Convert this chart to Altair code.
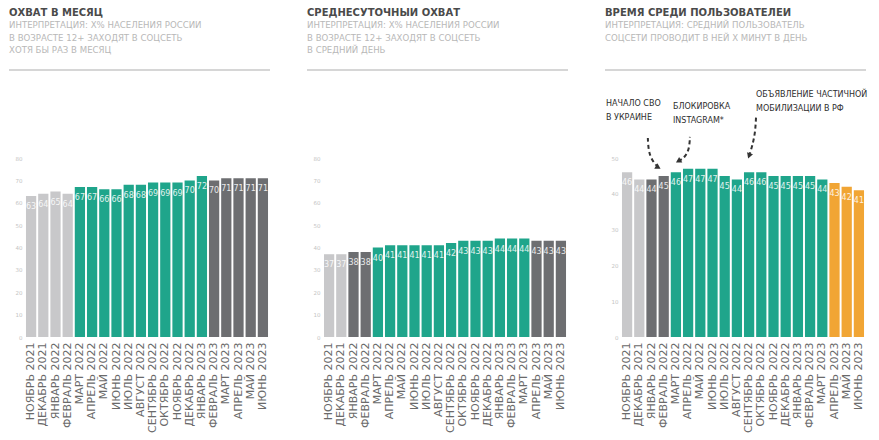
import altair as alt
import pandas as pd

months = ["НОЯБРЬ 2021", "ДЕКАБРЬ 2021", "ЯНВАРЬ 2022", "ФЕВРАЛЬ 2022", "МАРТ 2022",
          "АПРЕЛЬ 2022", "МАЙ 2022", "ИЮНЬ 2022", "ИЮЛЬ 2022", "АВГУСТ 2022",
          "СЕНТЯБРЬ 2022", "ОКТЯБРЬ 2022", "НОЯБРЬ 2022", "ДЕКАБРЬ 2022", "ЯНВАРЬ 2023",
          "ФЕВРАЛЬ 2023", "МАРТ 2023", "АПРЕЛЬ 2023", "МАЙ 2023", "ИЮНЬ 2023"]

reach_month = [63, 64, 65, 64, 67, 67, 66, 66, 68, 68, 69, 69, 69, 70, 72, 70, 71, 71, 71, 71]
groups_month = ["light"] * 4 + ["teal"] * 11 + ["dark"] * 5

reach_day = [37, 37, 38, 38, 40, 41, 41, 41, 41, 41, 42, 43, 43, 43, 44, 44, 44, 43, 43, 43]
groups_day = ["light"] * 2 + ["dark"] * 2 + ["teal"] * 13 + ["dark"] * 3

time_min = [46, 44, 44, 45, 46, 47, 47, 47, 45, 44, 46, 46, 45, 45, 45, 45, 44, 43, 42, 41]
groups_time = ["light"] * 2 + ["dark"] * 2 + ["teal"] * 13 + ["orange"] * 3

titles = ["ОХВАТ В МЕСЯЦ", "СРЕДНЕСУТОЧНЫЙ ОХВАТ", "ВРЕМЯ СРЕДИ ПОЛЬЗОВАТЕЛЕЙ"]
subtitles = [
    "ИНТЕРПРЕТАЦИЯ: Х% НАСЕЛЕНИЯ РОССИИ\nВ ВОЗРАСТЕ 12+ ЗАХОДЯТ В СОЦСЕТЬ\nХОТЯ БЫ РАЗ В МЕСЯЦ",
    "ИНТЕРПРЕТАЦИЯ: Х% НАСЕЛЕНИЯ РОССИИ\nВ ВОЗРАСТЕ 12+ ЗАХОДЯТ В СОЦСЕТЬ\nВ СРЕДНИЙ ДЕНЬ",
    "ИНТЕРПРЕТАЦИЯ: СРЕДНИЙ ПОЛЬЗОВАТЕЛЬ\nСОЦСЕТИ ПРОВОДИТ В НЕЙ Х МИНУТ В ДЕНЬ",
]

# annotations (panel 3)
ann_texts = ["НАЧАЛО СВО\nВ УКРАИНЕ", "БЛОКИРОВКА\nINSTAGRAM*", "ОБЪЯВЛЕНИЕ ЧАСТИЧНОЙ\nМОБИЛИЗАЦИИ В РФ"]
arrow_id = [1, 1, 1, 1, 2, 2, 2, 2, 3, 3, 3, 3]
arrow_x = [2.2, 2.25, 2.55, 3.05, 5.65, 5.6, 5.25, 4.7, 11.07, 11.0, 10.75, 10.5]
arrow_y = [55.6, 52.0, 49.2, 47.4, 55.9, 52.6, 50.2, 49.1, 61.5, 57.0, 53.2, 50.6]
head_angle = [300, 60, 20]

COLORS = {"light": "#c8c8ca", "dark": "#6d6e71", "teal": "#1fa58b", "orange": "#f1a534"}
FONT = "DejaVu Sans"
W, H = 244, 179
XPAD_IN, XPAD_OUT = 0.16, 0.08


def yaxis(ymax):
    return alt.Axis(values=list(range(0, ymax + 1, 10)), tickCount=ymax // 10 + 1,
                    labelFontSize=5.5, labelColor="#c4c4c4", domain=False, ticks=False,
                    grid=False, labelPadding=3, labelFont=FONT, labelOverlap=False)


def yscale(ymax):
    return alt.Scale(domain=[0, ymax], nice=False)


def panel(values, groups, ymax, title, subtitle, independent=False):
    df = pd.DataFrame({"month": months, "value": values, "group": groups})
    base = alt.Chart(df)
    xscale = alt.Scale(paddingInner=XPAD_IN, paddingOuter=XPAD_OUT)
    x = alt.X("month:N", sort=months, title=None, scale=xscale,
              axis=alt.Axis(labelAngle=-90, labelFontSize=11, labelColor="#6a6a6a",
                            labelFont=FONT, domain=False, ticks=False, labelPadding=5,
                            labelOverlap=False))
    y = alt.Y("value:Q", title=None, scale=yscale(ymax), axis=yaxis(ymax))
    bars = base.mark_bar().encode(
        x=x, y=y,
        color=alt.Color("group:N", scale=alt.Scale(domain=list(COLORS), range=list(COLORS.values())),
                        legend=None))
    if independent:
        lx = alt.X("month:N", sort=months, scale=xscale, axis=None)
    else:
        lx = x
    labels = base.mark_text(baseline="middle", dy=11, fontSize=8, color="white",
                            opacity=0.85, font=FONT).encode(
        x=lx, y=y, text="value:Q")
    ttl = alt.Chart(pd.DataFrame({"t": [title]})).mark_text(
        align="left", baseline="top", fontSize=10, fontWeight="bold", color="#4a4a4a",
        font=FONT).encode(x=alt.value(-16), y=alt.value(-150), text="t:N")
    sub = alt.Chart(pd.DataFrame({"t": [subtitle]})).mark_text(
        align="left", baseline="top", fontSize=8.6, color="#b8b8b8", font=FONT,
        lineBreak="\n", lineHeight=12.6).encode(x=alt.value(-16), y=alt.value(-137), text="t:N")
    sep = alt.Chart(pd.DataFrame({"a": [0]})).mark_rule(color="#d6d6d6", strokeWidth=2).encode(
        x=alt.value(-16), x2=alt.value(245), y=alt.value(-88))
    return [bars, labels, ttl, sub, sep]


p1 = alt.layer(*panel(reach_month, groups_month, 80, titles[0], subtitles[0])).properties(width=W, height=H)
p2 = alt.layer(*panel(reach_day, groups_day, 80, titles[1], subtitles[1])).properties(width=W, height=H)

layers3 = panel(time_min, groups_time, 50, titles[2], subtitles[2], independent=True)
adf = pd.DataFrame({"id": arrow_id, "xi": arrow_x, "yv": arrow_y})
ax = alt.X("xi:Q", scale=alt.Scale(domain=[0, 20], nice=False, zero=False), axis=None)
ay = alt.Y("yv:Q", title=None, scale=yscale(50), axis=yaxis(50))
arrows = alt.Chart(adf).mark_line(color="#333333", strokeWidth=2, strokeDash=[4, 3],
                                  interpolate="basis").encode(
    x=ax, y=ay, detail="id:N")
hdf = adf.groupby("id").tail(1).copy()
hdf["ang"] = head_angle
heads = alt.Chart(hdf).mark_point(shape="triangle-down", filled=True, size=40, color="#333333",
                                  opacity=1).encode(
    x=ax, y=ay, angle=alt.Angle("ang:Q", scale=None))

ann_pos = [(-15, -58), (52, -55), (135, -67)]
ann_layers = []
for txt, (px, py) in zip(ann_texts, ann_pos):
    ann_layers.append(alt.Chart(pd.DataFrame({"t": [txt]})).mark_text(
        align="left", baseline="top", fontSize=8, color="#2e2e2e", font=FONT,
        lineBreak="\n", lineHeight=13.5).encode(x=alt.value(px), y=alt.value(py), text="t:N"))

p3 = alt.layer(*layers3, arrows, heads, *ann_layers).resolve_scale(x="independent").properties(width=W, height=H)

chart = alt.hconcat(p1, p2, p3, spacing=54, bounds="flush").configure_view(stroke=None).properties(
    padding={"left": 0, "top": 0, "right": 0, "bottom": 0})

chart.save("out.html", embed_options={"renderer": "svg", "actions": False})
